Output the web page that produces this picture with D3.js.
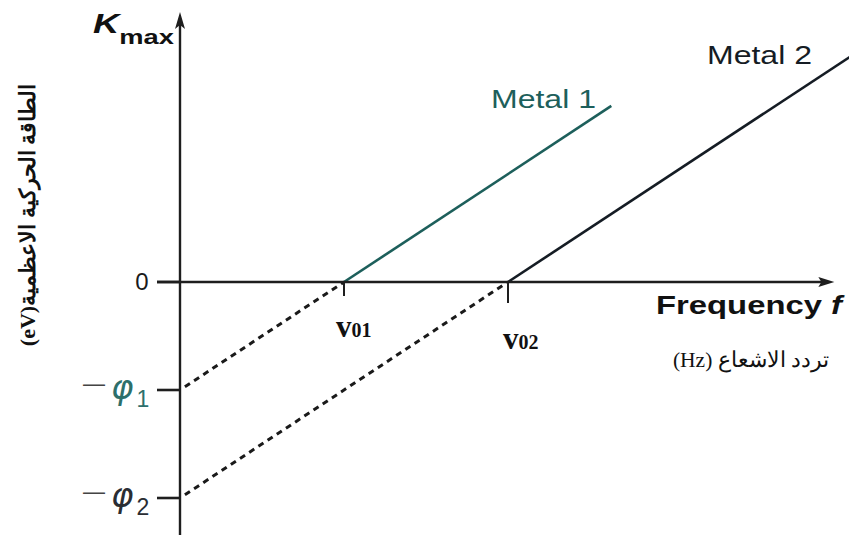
<!DOCTYPE html>
<html><head><meta charset="utf-8">
<script src="https://cdn.jsdelivr.net/npm/d3@7"></script>
<style>html,body{margin:0;padding:0;background:#fff;}svg{display:block;}</style>
</head><body>
<script>
// ---- data ----
const metals = ["Metal 1", "Metal 2"];
const thresholdFreq = [1, 2];        // ν01, ν02 (relative units)
const workFunction = [1, 2];         // φ1, φ2 (relative units, K = f − φ)
const endFreq = [2.63, 4.2];
const startFreq = [0.03, 0.03];
const xTickLabels = [["v", "01"], ["v", "02"]];
const yTickLabels = ["0", "φ1", "φ2"];
const metalColors = ["#1d5f5b", "#151c24"];

const W = 849, H = 535;
const svg = d3.select("body").append("svg").attr("width", W).attr("height", H);

const x = d3.scaleLinear().domain([0, 1]).range([180, 344]);
const y = d3.scaleLinear().domain([0, 1]).range([282, 174]);
const axisColor = "#1e1e1e";

// lines
const line = d3.line().x(d => x(d[0])).y(d => y(d[1]));
metals.forEach((m, i) => {
  const f0 = thresholdFreq[i], phi = workFunction[i];
  svg.append("path").attr("d", line([[startFreq[i], startFreq[i] - phi], [f0, 0]]))
    .attr("fill", "none").attr("stroke", "#1a1a1a").attr("stroke-width", 3)
    .attr("stroke-dasharray", "6,5");
  svg.append("path").attr("d", line([[f0, 0], [endFreq[i], endFreq[i] - phi]]))
    .attr("fill", "none").attr("stroke", metalColors[i]).attr("stroke-width", 2.6);
});

// axes
svg.append("line").attr("x1", 157).attr("x2", x(3.92)).attr("y1", y(0)).attr("y2", y(0))
  .attr("stroke", axisColor).attr("stroke-width", 2.4);
svg.append("path").attr("d", `M${x(3.99)},${y(0)} L${x(3.99)-16},${y(0)-5} L${x(3.99)-13},${y(0)} L${x(3.99)-16},${y(0)+5} Z`)
  .attr("fill", axisColor);
svg.append("line").attr("x1", x(0)).attr("x2", x(0)).attr("y1", H).attr("y2", 24)
  .attr("stroke", axisColor).attr("stroke-width", 2.4);
svg.append("path").attr("d", `M${x(0)},12 L${x(0)-5},29 L${x(0)},25 L${x(0)+5},29 Z`).attr("fill", axisColor);

// y ticks
[0, -workFunction[0], -workFunction[1]].forEach(v => {
  svg.append("line").attr("x1", 157).attr("x2", x(0)).attr("y1", y(v)).attr("y2", y(v))
    .attr("stroke", axisColor).attr("stroke-width", 2.6);
});
// x ticks
thresholdFreq.forEach((f, i) => {
  svg.append("line").attr("x1", x(f)).attr("x2", x(f)).attr("y1", y(0)).attr("y2", y(0) + (i ? 21 : 14))
    .attr("stroke", axisColor).attr("stroke-width", 2);
});

// y tick labels
svg.append("text").attr("x", 142).attr("y", y(0) + 8).attr("text-anchor", "middle")
  .attr("font-family", "Liberation Sans, Arial, sans-serif").attr("font-size", 24).attr("fill", "#1a1a1a")
  .text(yTickLabels[0]);
const phiColors = ["#2d6f6b", "#2a2d33"];
[1, 2].forEach(k => {
  const yy = y(-workFunction[k - 1]);
  svg.append("text").attr("x", 83).attr("y", yy + 1)
    .attr("font-family", "Liberation Sans, Arial, sans-serif").attr("font-size", 22).attr("fill", "#444").text("—");
  const t = svg.append("text").attr("x", 111).attr("y", yy + 9)
    .attr("font-family", "Liberation Sans, Arial, sans-serif").attr("fill", phiColors[k - 1]);
  t.append("tspan").attr("font-size", 34).attr("font-style", "italic").attr("font-family", "DejaVu Sans, sans-serif").text(yTickLabels[k][0]);
  t.append("tspan").attr("dx", 3).attr("dy", 8).attr("font-size", 23).text(yTickLabels[k][1]);
});

// x tick labels (ν)
const nuPos = [[336, 337], [503, 349]];
thresholdFreq.forEach((f, i) => {
  const t = svg.append("text").attr("x", nuPos[i][0]).attr("y", nuPos[i][1])
    .attr("font-family", "Liberation Serif, Times New Roman, serif").attr("font-weight", "bold").attr("fill", "#111");
  t.append("tspan").attr("font-size", 31).text(xTickLabels[i][0]);
  t.append("tspan").attr("font-size", 20).text(xTickLabels[i][1]);
});

// K_max
const kg = svg.append("g").attr("transform", "translate(93,0) scale(1.3,1)");
const k = kg.append("text").attr("x", 0).attr("y", 33)
  .attr("font-family", "Liberation Sans, Arial, sans-serif").attr("font-weight", "bold").attr("fill", "#111");
k.append("tspan").attr("font-size", 28).attr("font-style", "italic").text("K");
k.append("tspan").attr("dy", 11).attr("font-size", 21).text("max");

// Frequency f
const fr = svg.append("text").attr("x", 656).attr("y", 314).attr("textLength", 186).attr("lengthAdjust", "spacingAndGlyphs")
  .attr("font-family", "Liberation Sans, Arial, sans-serif").attr("font-weight", "bold").attr("font-size", 25).attr("fill", "#111");
fr.append("tspan").text("Frequency ");
fr.append("tspan").attr("font-style", "italic").text("f");

// Arabic x label
svg.append("text").attr("x", 751).attr("y", 367).attr("text-anchor", "middle")
  .attr("font-family", "Liberation Serif, Times New Roman, serif").attr("font-size", 21.5).attr("fill", "#111")
  .text("(Hz) تردد الاشعاع");

// Arabic y label
svg.append("text").attr("transform", "translate(35,215) rotate(-90)").attr("text-anchor", "middle")
  .attr("font-family", "Liberation Serif, Times New Roman, serif").attr("font-weight", "bold").attr("font-size", 22).attr("fill", "#111")
  .text("(eV)الطاقة الحركية الاعظمية");

// metal labels
const labelPos = [[491, 108, 105], [707, 64, 105]];
metals.forEach((m, i) => {
  svg.append("text").attr("x", labelPos[i][0]).attr("y", labelPos[i][1])
    .attr("textLength", labelPos[i][2]).attr("lengthAdjust", "spacingAndGlyphs")
    .attr("font-family", "Liberation Sans, Arial, sans-serif").attr("font-size", 26).attr("fill", metalColors[i])
    .text(m);
});
</script>
</body></html>
